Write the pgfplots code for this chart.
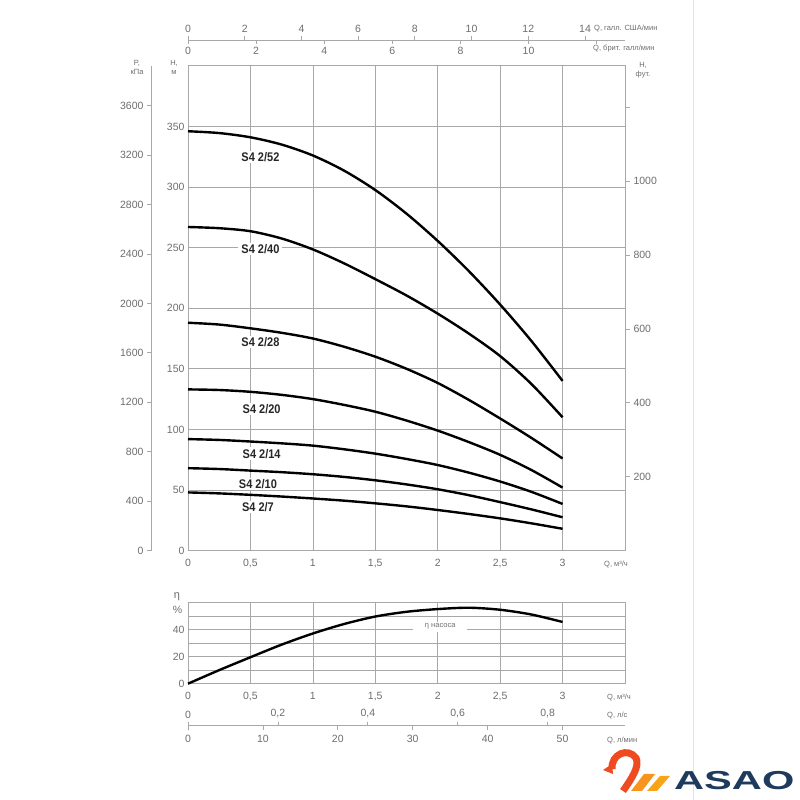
\documentclass[border=0pt]{standalone}
\usepackage{fontspec}
\setmainfont{Liberation Sans}
\newfontfamily\labfont{Liberation Sans}[FakeStretch=0.88]
\newfontfamily\logofont{Liberation Sans}[FakeStretch=1.6]
\usepackage{pgfplots}
\pgfplotsset{compat=1.18}
\definecolor{tickgray}{HTML}{6E6E6E}
\definecolor{gridgray}{HTML}{A8A8A8}
\definecolor{navy}{HTML}{1E3A5C}
\definecolor{swanred}{HTML}{EE4B23}
\definecolor{swanorange}{HTML}{F7941D}
\pgfplotsset{every axis/.append style={
  /pgf/number format/assume math mode=true,
  /pgf/number format/1000 sep={},
  tick label style={font=\fontsize{10.5}{12}\selectfont, text=tickgray},
  scale only axis, anchor=south west,
  axis line style={gridgray, line width=0.8pt},
  tick style={gridgray, line width=0.8pt}}}
\newcommand{\unitfont}{\fontsize{7.5}{9}\selectfont}
\begin{document}
\begin{tikzpicture}[x=1pt,y=1pt]
\path[use as bounding box] (0,0) rectangle (800,800);
\fill[white] (0,0) rectangle (800,800);
\draw[gray!22, line width=0.8pt] (693,0) -- (693,800);

% ---------- main H-Q chart ----------
\begin{axis}[at={(188pt,249.4pt)}, width=437pt, height=484.8pt,
  xmin=0, xmax=3.5, ymin=0, ymax=400,
  xtick={0,0.5,1,1.5,2,2.5,3,3.5}, xticklabels={0,{0,5},1,{1,5},2,{2,5},3,{}},
  ytick={0,50,...,400}, yticklabels={0,50,100,150,200,250,300,350,{}},
  xticklabel style={yshift=-5pt},
  grid=major, major grid style={gridgray, line width=0.7pt},
  major tick length=0pt, clip=false]
\begin{scope}[every node/.style={fill=white, inner xsep=3pt, inner ysep=1.5pt, text=black!85, font=\labfont\bfseries\fontsize{12.5}{14}\selectfont}]
\node at (axis cs:0.58,325) {S4 2/52};
\node at (axis cs:0.58,249) {S4 2/40};
\node at (axis cs:0.58,172) {S4 2/28};
\node at (axis cs:0.59,117) {S4 2/20};
\node at (axis cs:0.59,80) {S4 2/14};
\node[inner xsep=8pt] at (axis cs:0.56,55) {S4 2/10};
\node at (axis cs:0.56,36) {S4 2/7};
\end{scope}
\addplot[black, line width=2.4pt, smooth] coordinates {(0,346) (0.25,344.5) (0.5,341) (0.75,335) (1,326) (1.25,313.5) (1.5,297.5) (1.75,278) (2,255.5) (2.25,230.5) (2.5,203) (2.75,173) (3,140)};
\addplot[black, line width=2.4pt, smooth] coordinates {(0,267) (0.25,266) (0.5,263.5) (0.75,257.5) (1,248.5) (1.25,237) (1.5,224) (1.75,210.5) (2,195.5) (2.25,179) (2.5,160.5) (2.75,137.5) (3,110)};
\addplot[black, line width=2.4pt, smooth] coordinates {(0,188) (0.25,186.5) (0.5,183.4) (0.75,179.7) (1,175) (1.25,168.2) (1.5,160) (1.75,150) (2,138.3) (2.25,124.3) (2.5,109) (2.75,93) (3,76)};
\addplot[black, line width=2.4pt, smooth] coordinates {(0,133) (0.25,132.5) (0.5,131) (0.75,128.5) (1,125) (1.25,120.2) (1.5,114.6) (1.75,107.3) (2,99) (2.25,89.5) (2.5,79) (2.75,66.5) (3,52)};
\addplot[black, line width=2.4pt, smooth] coordinates {(0,92) (0.25,91.3) (0.5,90) (0.75,88.5) (1,86.6) (1.25,83.6) (1.5,80) (1.75,75.6) (2,70.6) (2.25,64.3) (2.5,57) (2.75,48.5) (3,38.5)};
\addplot[black, line width=2.4pt, smooth] coordinates {(0,68) (0.25,67.3) (0.5,66) (0.75,64.7) (1,63) (1.25,60.8) (1.5,58) (1.75,54.6) (2,50.6) (2.25,45.7) (2.5,40) (2.75,34) (3,27.5)};
\addplot[black, line width=2.4pt, smooth] coordinates {(0,48) (0.25,47.2) (0.5,46) (0.75,44.6) (1,43) (1.25,41.2) (1.5,39) (1.75,36.5) (2,33.5) (2.25,30.2) (2.5,26.6) (2.75,22.5) (3,18)};
\end{axis}

% ---------- right axis: feet ----------
\begin{axis}[at={(188pt,249.4pt)}, width=437pt, height=484.8pt,
  xmin=0, xmax=3.5, ymin=0, ymax=1312.34,
  axis y line*=right, axis x line=none,
  ytick={200,400,...,1200}, yticklabels={200,400,600,800,1000,{}},
  tick align=outside, major tick length=5pt]
\end{axis}

% ---------- left axis: kPa ----------
\begin{axis}[at={(151pt,249.4pt)}, width=20pt, height=484.8pt,
  xmin=0, xmax=1, ymin=0, ymax=3922.66,
  axis y line*=left, axis x line=none,
  ytick={0,400,...,3600},
  tick align=outside, major tick length=4pt]
\end{axis}

% ---------- top axes: gallons ----------
\begin{axis}[at={(188pt,760pt)}, anchor=north west, width=437pt, height=10pt,
  xmin=0, xmax=15.41, ymin=0, ymax=1,
  axis x line*=top, axis y line=none,
  xtick={0,2,...,14},
  tick align=outside, major tick length=4pt]
\end{axis}
\begin{axis}[at={(188pt,760pt)}, width=437pt, height=10pt,
  xmin=0, xmax=12.8315, ymin=0, ymax=1,
  axis x line*=bottom, axis y line=none,
  xtick={0,2,...,12}, xticklabels={0,2,4,6,8,10,{}},
  tick align=outside, major tick length=4pt]
\end{axis}

% ---------- efficiency chart ----------
\begin{axis}[at={(188pt,116.3pt)}, width=437pt, height=81.4pt,
  xmin=0, xmax=3.5, ymin=0, ymax=60,
  xtick={0,0.5,1,1.5,2,2.5,3,3.5}, xticklabels={0,{0,5},1,{1,5},2,{2,5},3,{}},
  ytick={0,10,...,60}, yticklabels={0,{},20,{},40,{},{}},
  xticklabel style={yshift=-5pt},
  grid=major, major grid style={gridgray, line width=0.7pt},
  major tick length=0pt, clip=false]
\node[fill=white, inner xsep=12pt, inner ysep=2pt, text=tickgray, font=\unitfont] at (axis cs:2.02,42) {η насоса};
\addplot[black, line width=2.4pt, smooth] coordinates {(0,0) (0.25,10) (0.5,19.5) (0.75,28.8) (1,37) (1.25,44) (1.5,49.5) (1.75,53) (2,55) (2.25,56) (2.5,54.5) (2.75,51) (3,45.5)};
\end{axis}

% ---------- bottom axes: l/s and l/min ----------
\begin{axis}[at={(188pt,74.3pt)}, anchor=north west, width=437pt, height=10pt,
  xmin=0, xmax=0.97222, ymin=0, ymax=1,
  axis x line*=top, axis y line=none,
  xtick={0,0.2,0.4,0.6,0.8}, xticklabels={0,{0,2},{0,4},{0,6},{0,8}},
  tick align=outside, major tick length=4pt]
\end{axis}
\begin{axis}[at={(188pt,74.3pt)}, width=437pt, height=10pt,
  xmin=0, xmax=58.333, ymin=0, ymax=1,
  axis x line*=bottom, axis y line=none,
  xtick={0,10,...,50}, xticklabel style={yshift=-2pt},
  tick align=outside, major tick length=4pt]
\end{axis}

% ---------- unit labels ----------
\begin{scope}[every node/.style={text=tickgray, font=\unitfont, inner sep=0pt}]
\node[anchor=west] at (594,771) {Q, галл. США/мин};
\node[anchor=west] at (593,751) {Q, брит. галл/мин};
\node[align=center] at (137,733) {P,\\кПа};
\node[align=center] at (174,733) {H,\\м};
\node[align=center] at (643,730) {H,\\фут.};
\node[anchor=west] at (604,236) {Q, м³/ч};
\node[anchor=west] at (607,103) {Q, м³/ч};
\node[anchor=west] at (607,85) {Q, л/с};
\node[anchor=west] at (607,60) {Q, л/мин};
\end{scope}
\node[text=tickgray, font=\fontsize{11}{12}\selectfont, inner sep=0pt] at (177,203) {η};
\node[text=tickgray, font=\fontsize{10.5}{12}\selectfont, inner sep=0pt] at (177.5,190.5) {\%};

% ---------- logo ----------
\draw[swanred, line width=7pt] (612,31) .. controls (611,46) and (628,53) .. (636,42) .. controls (640,34) and (632,22) .. (623,9);
\fill[swanred] (612,36) -- (603,30) -- (613,26) -- cycle;
\fill[swanorange] (631,9) -- (644,26) -- (655,26) -- (642,9) -- cycle;
\fill[swanorange!85!yellow] (647,9) -- (660,24) -- (670,24) -- (657,9) -- cycle;
\node[anchor=base west, inner sep=0pt, text=navy, font=\logofont\bfseries\fontsize{26}{26}\selectfont] at (674,10) {ASAO};
\end{tikzpicture}
\end{document}
